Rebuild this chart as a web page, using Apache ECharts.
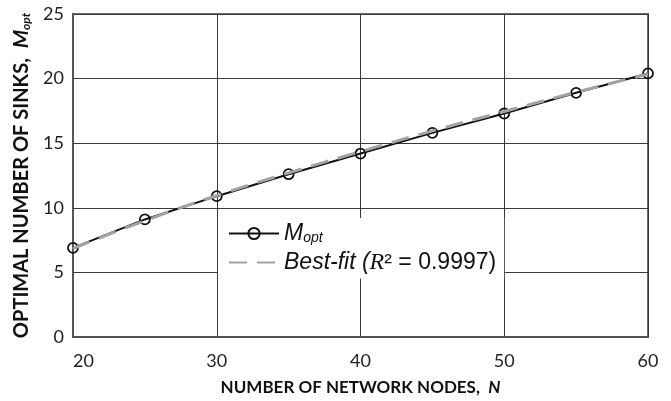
<!DOCTYPE html>
<html>
<head>
<meta charset="utf-8">
<script src="https://cdn.jsdelivr.net/npm/echarts@6/dist/echarts.min.js"></script>
<style>
  html, body { margin: 0; padding: 0; background: #fff; }
  #chart { width: 671px; height: 401px; }
</style>
</head>
<body>
<div id="chart"></div>
<script>
// Network size N and the optimal number of sinks found for each size
const nodes = [20, 25, 30, 35, 40, 45, 50, 55, 60];
const optimalSinks = [6.9, 9.1, 10.9, 12.6, 14.2, 15.8, 17.3, 18.9, 20.4];
// Fitted curve evaluated at the same network sizes
const bestFit = [6.85, 9.0, 10.95, 12.7, 14.35, 15.95, 17.45, 18.95, 20.35];
const xTicks = [20, 30, 40, 50, 60];
const yTicks = [0, 5, 10, 15, 20, 25];

const chart = echarts.init(document.getElementById('chart'), null, { renderer: 'canvas' });

const pairs = (xs, ys) => xs.map((x, i) => [x, ys[i]]);

chart.setOption({
  animation: false,
  backgroundColor: '#fff',
  grid: {
    left: 73, right: 23, top: 14, bottom: 57,
    show: true, borderColor: '#6e6e6e', borderWidth: 2, backgroundColor: 'transparent'
  },
  xAxis: {
    type: 'value',
    min: xTicks[0], max: xTicks[xTicks.length - 1], interval: 10,
    axisLine: { show: true, lineStyle: { color: '#555', width: 2 } },
    axisTick: { show: false },
    splitLine: { show: true, lineStyle: { color: '#3a3a3a', width: 1 } },
    axisLabel: {
      margin: 15, color: '#222', fontFamily: 'Lato', fontSize: 18,
      alignMinLabel: 'left'
    },
    name: '{b|NUMBER OF NETWORK NODES,  }{i|N}',
    nameLocation: 'middle', nameGap: 42,
    nameTextStyle: {
      rich: {
        b: { fontFamily: 'Lato', fontWeight: 'bold', fontSize: 17, color: '#111' },
        i: { fontFamily: 'Lato', fontWeight: 'bold', fontStyle: 'italic', fontSize: 17, color: '#111' }
      }
    }
  },
  yAxis: {
    type: 'value',
    min: yTicks[0], max: yTicks[yTicks.length - 1], interval: 5,
    axisLine: { show: true, lineStyle: { color: '#555', width: 2 } },
    axisTick: { show: false },
    splitLine: { show: true, lineStyle: { color: '#3a3a3a', width: 1 } },
    axisLabel: { margin: 9, color: '#222', fontFamily: 'Lato', fontSize: 18 },
    name: '{b|OPTIMAL NUMBER OF SINKS,  }{i|M}{s|opt}',
    nameLocation: 'middle', nameGap: 39, nameRotate: 90,
    nameTextStyle: {
      rich: {
        b: { fontFamily: 'Lato', fontWeight: 'bold', fontSize: 20, color: '#111' },
        i: { fontFamily: 'Lato', fontWeight: 'bold', fontStyle: 'italic', fontSize: 21, color: '#111' },
        s: { fontFamily: 'Lato', fontWeight: 'bold', fontStyle: 'italic', fontSize: 12, color: '#111', padding: [8, 0, 0, 0] }
      }
    }
  },
  legend: {
    orient: 'vertical',
    left: 218, top: 218,
    padding: [4, 8, 4, 10],
    backgroundColor: '#fff',
    itemWidth: 50, itemHeight: 14, itemGap: 5,
    data: [
      { name: 'Mopt' },
      { name: 'Best-fit', itemStyle: { color: 'rgba(0,0,0,0)', borderWidth: 0 } }
    ],
    formatter: function (name) {
      if (name === 'Mopt') return '{i|M}{s|opt}';
      return '{i|Best-fit (}{r|R}{n|² = 0.9997)}';
    },
    textStyle: {
      rich: {
        i: { fontFamily: 'Liberation Sans', fontStyle: 'italic', fontSize: 23, color: '#111' },
        s: { fontFamily: 'Liberation Sans', fontStyle: 'italic', fontSize: 14, color: '#111', padding: [10, 0, 0, 0] },
        r: { fontFamily: 'Liberation Serif', fontStyle: 'italic', fontSize: 24, color: '#111' },
        n: { fontFamily: 'Liberation Sans', fontSize: 23, color: '#111' }
      }
    }
  },
  series: [
    {
      name: 'Mopt',
      type: 'line',
      data: pairs(nodes, optimalSinks),
      symbol: 'circle', symbolSize: 10,
      itemStyle: { color: 'rgba(255,255,255,0)', borderColor: '#111', borderWidth: 1.8 },
      lineStyle: { color: '#111', width: 2 },
      z: 3
    },
    {
      name: 'Best-fit',
      type: 'line',
      data: pairs(nodes, bestFit),
      smooth: true,
      symbol: 'none',
      itemStyle: { color: '#a3a3a3' },
      lineStyle: { color: '#a3a3a3', width: 3, type: [18, 10] },
      z: 4
    }
  ]
});
</script>
</body>
</html>
